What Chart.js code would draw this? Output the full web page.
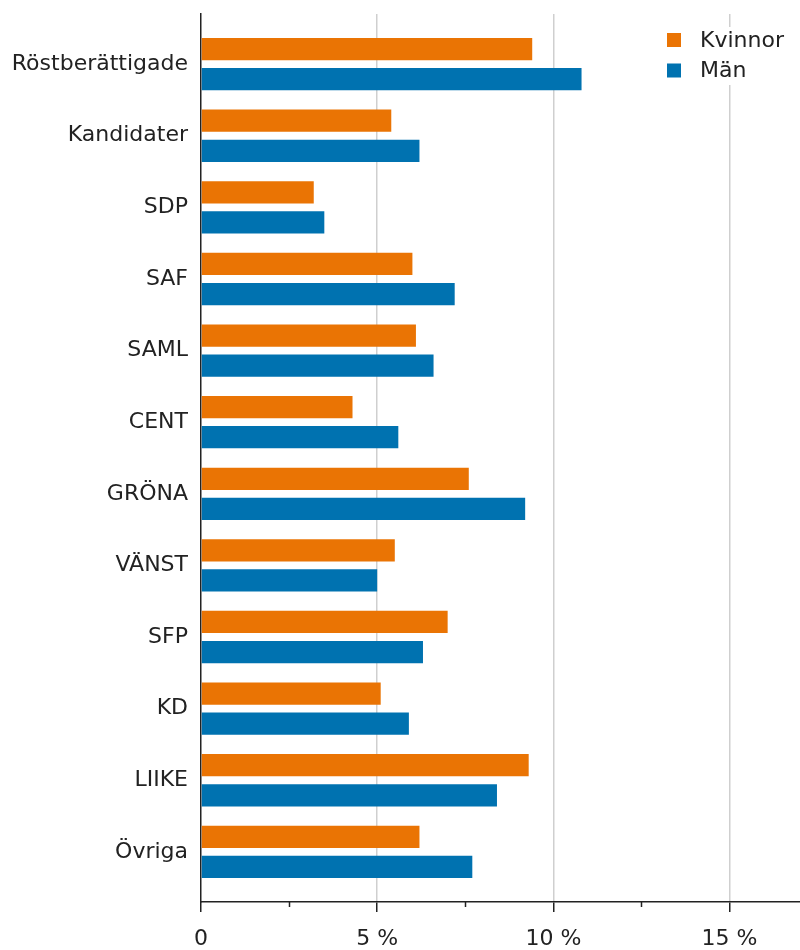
<!DOCTYPE html>
<html><head><meta charset="utf-8">
<script src="https://cdn.jsdelivr.net/npm/chart.js@4.4.0/dist/chart.umd.min.js"></script>
<style>html,body{margin:0;padding:0;background:#fff;}#wrap{width:800px;height:950px;}</style>
</head><body><div id="wrap"><canvas id="c" width="800" height="950"></canvas></div>
<script>
const categories = ['Röstberättigade','Kandidater','SDP','SAF','SAML','CENT','GRÖNA','VÄNST','SFP','KD','LIIKE','Övriga'];
const kvinnor = [9.4, 5.4, 3.2, 6.0, 6.1, 4.3, 7.6, 5.5, 7.0, 5.1, 9.3, 6.2];
const man     = [10.8, 6.2, 3.5, 7.2, 6.6, 5.6, 9.2, 5.0, 6.3, 5.9, 8.4, 7.7];
const seriesNames = ['Kvinnor', 'Män'];
const seriesColors = ['#EA7404', '#0072B0'];
const majorTicks = [0, 5, 10, 15];
const minorTicks = [2.5, 7.5, 12.5];
const xMax = 17;

const FONT = {family: '"DejaVu Sans", sans-serif', size: 22};
const TEXT = '#222';
const AXIS = '#222';

const minorTickPlugin = {
  id: 'minorTicks',
  afterDraw(chart) {
    const s = chart.scales.x, ctx = chart.ctx, b = chart.chartArea.bottom;
    ctx.save();
    ctx.strokeStyle = AXIS; ctx.lineWidth = 1.5;
    minorTicks.forEach(v => {
      const px = Math.round(s.getPixelForValue(v)) + 0.5;
      ctx.beginPath(); ctx.moveTo(px, b); ctx.lineTo(px, b + 5); ctx.stroke();
    });
    ctx.restore();
  }
};

const boxLegendPlugin = {
  id: 'boxLegend',
  afterDraw(chart) {
    const ctx = chart.ctx, a = chart.chartArea;
    ctx.save();
    ctx.fillStyle = '#fff';
    ctx.fillRect(a.right - 145, a.top + 13, 140, 58);
    ctx.font = `${FONT.size}px ${FONT.family}`;
    ctx.textBaseline = 'middle';
    ctx.textAlign = 'left';
    chart.data.datasets.forEach((ds, i) => {
      const cy = a.top + 26 + i * 30.5;
      ctx.fillStyle = ds.backgroundColor;
      ctx.fillRect(a.right - 133, cy - 7, 14, 14);
      ctx.fillStyle = TEXT;
      ctx.fillText(ds.label, a.right - 100, cy + 1);
    });
    ctx.restore();
  }
};

const datasets = [kvinnor, man].map((arr, k) => ({
  label: seriesNames[k],
  data: arr.map((v, i) => ({x: v, y: i})),
  backgroundColor: seriesColors[k],
  borderWidth: 0,
  categoryPercentage: 0.84,
  barPercentage: 0.74
}));

new Chart(document.getElementById('c'), {
  type: 'bar',
  data: {datasets},
  options: {
    indexAxis: 'y',
    responsive: false,
    animation: false,
    devicePixelRatio: 1,
    layout: {padding: {top: 14, right: 0, bottom: 0, left: 0}},
    plugins: {legend: {display: false}, tooltip: {enabled: false}},
    scales: {
      x: {
        type: 'linear', position: 'bottom', min: 0, max: xMax, bounds: 'data', offset: false,
        afterBuildTicks: s => { s.ticks = majorTicks.map(v => ({value: v})); },
        afterFit: s => { s.height = 48; s.paddingLeft = 0; s.paddingRight = 0; },
        ticks: {
          callback: v => v === 0 ? '0' : v + ' %',
          font: FONT, color: TEXT, padding: 14, maxRotation: 0, autoSkip: false
        },
        grid: {
          offset: false,
          color: c => (c.tick && c.tick.value !== 0) ? '#cfcfcf' : 'rgba(0,0,0,0)',
          lineWidth: 1.5, tickLength: 10, tickColor: AXIS, tickWidth: 1.5
        },
        border: {display: true, color: AXIS, width: 1.5}
      },
      y: {
        type: 'linear', reverse: true, bounds: 'data', offset: false,
        min: -0.7, max: categories.length - 1 + 0.7,
        afterBuildTicks: s => { s.ticks = categories.map((_, i) => ({value: i})); },
        afterFit: s => { s.width = 201; s.paddingTop = 0; s.paddingBottom = 0; },
        ticks: {
          callback: v => categories[v] ?? '',
          font: FONT, color: TEXT, padding: 13, autoSkip: false
        },
        grid: {display: true, offset: false, drawOnChartArea: false, drawTicks: false},
        border: {display: true, color: AXIS, width: 1.5}
      }
    }
  },
  plugins: [minorTickPlugin, boxLegendPlugin]
});
</script></body></html>
